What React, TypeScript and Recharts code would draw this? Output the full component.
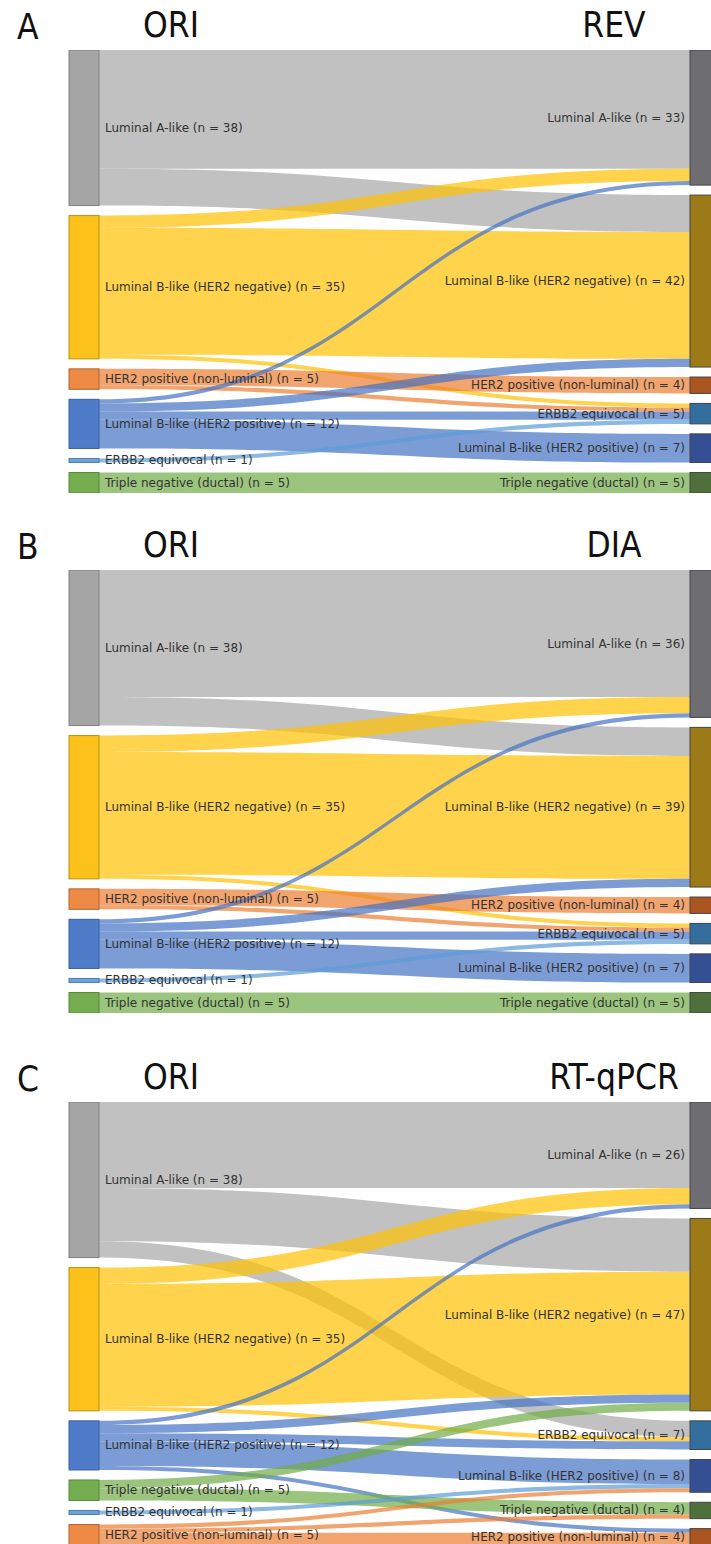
import React from "react";
import { Sankey, Layer } from "recharts";

type Kind = "lumA" | "lumBneg" | "her2" | "lumBpos" | "erbb2" | "tn";
type Flow = [Kind, Kind, number];

const subtypeNames: Record<Kind, string> = {
  lumA: "Luminal A-like",
  lumBneg: "Luminal B-like (HER2 negative)",
  her2: "HER2 positive (non-luminal)",
  lumBpos: "Luminal B-like (HER2 positive)",
  erbb2: "ERBB2 equivocal",
  tn: "Triple negative (ductal)",
};

// column orders (top to bottom)
const oriOrder: Kind[] = ["lumA", "lumBneg", "her2", "lumBpos", "erbb2", "tn"];
const oriOrderPcr: Kind[] = ["lumA", "lumBneg", "lumBpos", "tn", "erbb2", "her2"];
const revOrder: Kind[] = ["lumA", "lumBneg", "her2", "erbb2", "lumBpos", "tn"];
const diaOrder: Kind[] = ["lumA", "lumBneg", "her2", "erbb2", "lumBpos", "tn"];
const pcrOrder: Kind[] = ["lumA", "lumBneg", "erbb2", "lumBpos", "tn", "her2"];

// [ORI subtype, new subtype, number of cases]
const revFlows: Flow[] = [
  ["lumA", "lumA", 29],
  ["lumA", "lumBneg", 9],
  ["lumBneg", "lumA", 3],
  ["lumBneg", "lumBneg", 31],
  ["lumBneg", "erbb2", 1],
  ["her2", "her2", 4],
  ["her2", "erbb2", 1],
  ["lumBpos", "lumA", 1],
  ["lumBpos", "lumBneg", 2],
  ["lumBpos", "erbb2", 2],
  ["lumBpos", "lumBpos", 7],
  ["erbb2", "erbb2", 1],
  ["tn", "tn", 5],
];

const diaFlows: Flow[] = [
  ["lumA", "lumA", 31],
  ["lumA", "lumBneg", 7],
  ["lumBneg", "lumA", 4],
  ["lumBneg", "lumBneg", 30],
  ["lumBneg", "erbb2", 1],
  ["her2", "her2", 4],
  ["her2", "erbb2", 1],
  ["lumBpos", "lumA", 1],
  ["lumBpos", "lumBneg", 2],
  ["lumBpos", "erbb2", 2],
  ["lumBpos", "lumBpos", 7],
  ["erbb2", "erbb2", 1],
  ["tn", "tn", 5],
];

const pcrFlows: Flow[] = [
  ["lumA", "lumA", 21],
  ["lumA", "lumBneg", 13],
  ["lumA", "erbb2", 4],
  ["lumBneg", "lumA", 4],
  ["lumBneg", "lumBneg", 30],
  ["lumBneg", "erbb2", 1],
  ["lumBpos", "lumA", 1],
  ["lumBpos", "lumBneg", 2],
  ["lumBpos", "erbb2", 2],
  ["lumBpos", "lumBpos", 6],
  ["lumBpos", "her2", 1],
  ["tn", "lumBneg", 2],
  ["tn", "tn", 3],
  ["erbb2", "lumBpos", 1],
  ["her2", "lumBpos", 1],
  ["her2", "tn", 1],
  ["her2", "her2", 3],
];

const leftFill: Record<Kind, string> = {
  lumA: "#a5a5a5",
  lumBneg: "#fcc21b",
  her2: "#ed8a45",
  lumBpos: "#4f7cc8",
  erbb2: "#6fa0d6",
  tn: "#74ae50",
};
const leftStroke: Record<Kind, string> = {
  lumA: "#808080",
  lumBneg: "#b89012",
  her2: "#b4652e",
  lumBpos: "#3b5f9f",
  erbb2: "#4c7db2",
  tn: "#568a37",
};
const rightFill: Record<Kind, string> = {
  lumA: "#6e6d72",
  lumBneg: "#9d7a18",
  her2: "#aa5520",
  erbb2: "#336e9e",
  lumBpos: "#344f94",
  tn: "#50703b",
};
const linkColor: Record<Kind, string> = {
  lumA: "#a6a6a6",
  lumBneg: "#ffc000",
  her2: "#ed7d31",
  lumBpos: "#4472c4",
  erbb2: "#5b9bd5",
  tn: "#70ad47",
};

function buildData(left: Kind[], right: Kind[], flows: Flow[]) {
  const nodes = [
    ...left.map((k) => ({ name: subtypeNames[k], kind: k, side: 0 })),
    ...right.map((k) => ({ name: subtypeNames[k], kind: k, side: 1 })),
  ];
  const links = flows.map(([from, to, n]) => ({
    source: left.indexOf(from),
    target: left.length + right.indexOf(to),
    value: n,
  }));
  return { nodes, links };
}

const panels = [
  { letter: "A", right: "REV", top: 50, data: buildData(oriOrder, revOrder, revFlows) },
  { letter: "B", right: "DIA", top: 570, data: buildData(oriOrder, diaOrder, diaFlows) },
  { letter: "C", right: "RT-qPCR", top: 1102, data: buildData(oriOrderPcr, pcrOrder, pcrFlows) },
];

const titleFont = "'Liberation Sans Narrow', 'DejaVu Sans Condensed', sans-serif";

function SubtypeNode(props: any) {
  const { x, y, width, height, payload } = props;
  const kind = payload.kind as Kind;
  const isLeft = payload.side === 0;
  return (
    <Layer>
      <rect
        x={x}
        y={y}
        width={width}
        height={height}
        fill={isLeft ? leftFill[kind] : rightFill[kind]}
        stroke={isLeft ? leftStroke[kind] : "#444"}
        strokeWidth={1}
      />
      <text
        x={isLeft ? x + width + 6 : x - 5}
        y={y + height / 2}
        textAnchor={isLeft ? "start" : "end"}
        dominantBaseline="central"
        fontFamily="'DejaVu Sans', Verdana, sans-serif"
        fontSize={12}
        fill="#333"
      >
        {`${payload.name} (n = ${payload.value})`}
      </text>
    </Layer>
  );
}

function makeBand(nodes: any[]) {
  return function FlowBand(props: any) {
    const { sourceX, sourceY, sourceControlX, targetX, targetY, targetControlX, linkWidth, payload } = props;
    const src = payload.source;
    const kind: Kind = typeof src === "object" ? src.kind : nodes[src].kind;
    const h = linkWidth / 2;
    const d =
      `M${sourceX},${sourceY - h}` +
      `C${sourceControlX},${sourceY - h} ${targetControlX},${targetY - h} ${targetX},${targetY - h}` +
      `L${targetX},${targetY + h}` +
      `C${targetControlX},${targetY + h} ${sourceControlX},${sourceY + h} ${sourceX},${sourceY + h}Z`;
    return <path d={d} fill={linkColor[kind]} fillOpacity={0.7} stroke="none" />;
  };
}

export default function App() {
  return (
    <div
      style={{
        position: "fixed",
        left: 0,
        top: 0,
        width: 711,
        height: 1544,
        overflow: "hidden",
        background: "#fff",
      }}
    >
      {panels.map((p) => (
        <React.Fragment key={p.letter}>
          <svg
            width={711}
            height={50}
            style={{ position: "absolute", left: 0, top: p.top - 50 }}
          >
            <text x={17} y={39} fontFamily={titleFont} fontSize={35} fill="#111">
              {p.letter}
            </text>
            <text x={171} y={37} textAnchor="middle" fontFamily={titleFont} fontSize={35} fill="#111">
              ORI
            </text>
            <text x={614} y={37} textAnchor="middle" fontFamily={titleFont} fontSize={35} fill="#111">
              {p.right}
            </text>
          </svg>
          <div style={{ position: "absolute", left: 0, top: p.top }}>
            <Sankey
              width={720}
              height={443}
              data={p.data}
              nodeWidth={30}
              nodePadding={10}
              iterations={0}
              sort={false}
              linkCurvature={0.5}
              margin={{ top: 0, right: 0, bottom: 0, left: 69 }}
              node={(np: any) => <SubtypeNode {...np} />}
              link={makeBand(p.data.nodes)}
            />
          </div>
        </React.Fragment>
      ))}
    </div>
  );
}
